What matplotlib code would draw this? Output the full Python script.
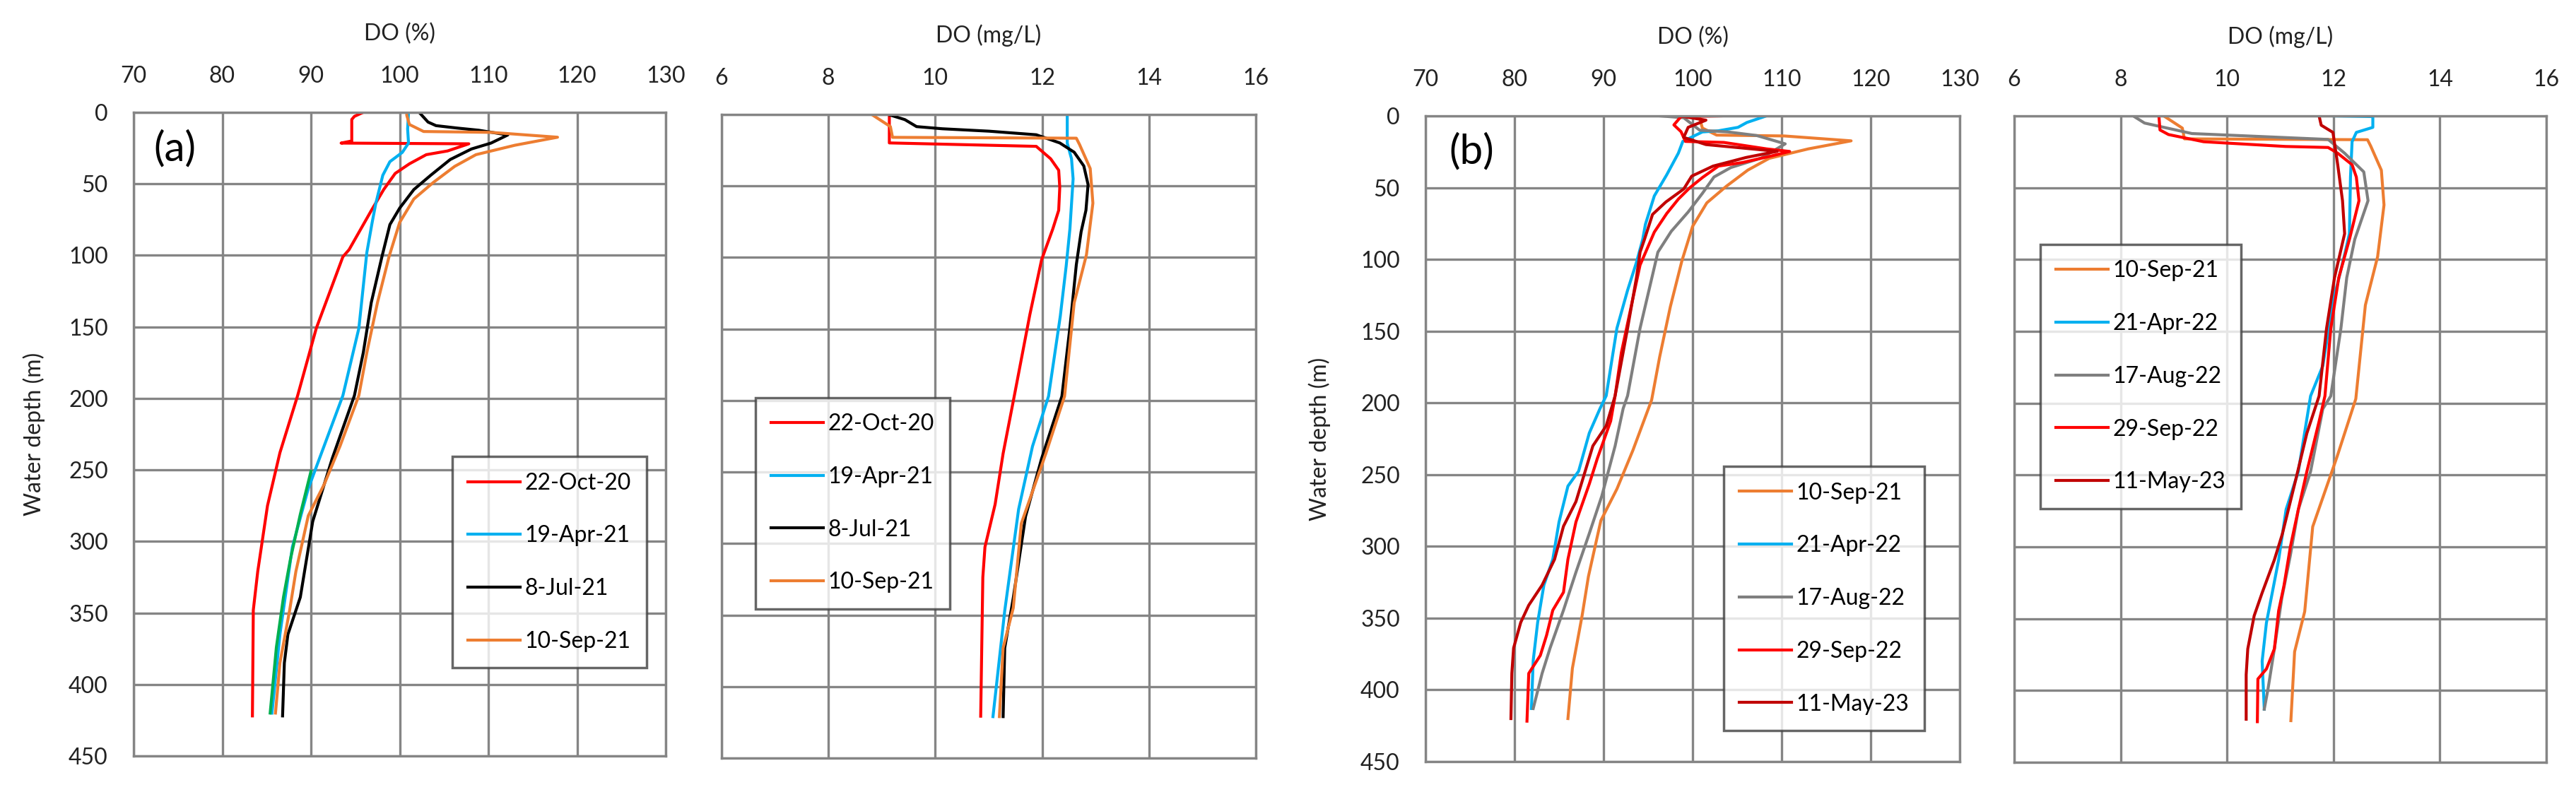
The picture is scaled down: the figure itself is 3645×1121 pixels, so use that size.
"""Dissolved-oxygen depth profiles, (a) 2020-21 and (b) 2021-23 surveys."""

import matplotlib
matplotlib.use("Agg")
import matplotlib.pyplot as plt

plt.rcParams["font.family"] = ["Lato", "DejaVu Sans"]

# ---- (a) DO saturation (%) ----
oct20_d = [0, 2.8, 5, 20, 21.5, 22, 27, 29.6, 36, 42.7, 54, 68.7, 96, 101, 151, 198, 238, 275, 321, 348, 422]
oct20_p = [95.9, 94.9, 94.6, 94.6, 93.4, 107.8, 105.4, 103.0, 101.1, 99.5, 98.2, 96.8, 94.3, 93.6, 90.6,
           88.5, 86.5, 85.1, 84.0, 83.5, 83.4]
apr21_d = [0, 11.7, 21.5, 28, 34.5, 44, 64, 77, 98, 151, 198, 233, 263, 304, 365, 420]
apr21_p = [101.0, 100.9, 101.0, 100.3, 98.9, 98.1, 97.3, 96.9, 96.3, 95.4, 93.6, 91.5, 89.7, 87.9, 86.5, 85.6]
jul21_d = [0, 6.8, 9.3, 11, 12.5, 15.8, 21.5, 25.6, 33, 44, 54, 67, 78.5, 101, 133, 168, 198, 242, 286, 339,
           365, 385, 422]
jul21_p = [102.2, 103.2, 104.1, 106.5, 108.9, 112.2, 110.3, 108.1, 105.7, 103.5, 101.6, 100.0, 98.9, 98.0,
           96.8, 95.9, 94.9, 92.4, 90.2, 88.8, 87.4, 87.0, 86.8]
sep21_d = [0, 2, 8.5, 13.4, 14, 17.4, 23, 29.6, 37.8, 49, 60.6, 77, 101, 133, 168, 198, 233, 260, 282, 321,
           348, 385, 420]
sep21_p = [100.8, 100.8, 101.1, 102.7, 110.3, 117.8, 113.0, 108.6, 106.2, 103.8, 101.6, 100.0, 98.8, 97.5,
           96.3, 95.4, 93.3, 91.5, 89.7, 88.3, 87.6, 86.5, 86.0]
# unlabelled green trace visible in the lower part of panel (a)
extra_d = [251, 281, 312, 339, 374, 420]
extra_p = [90.0, 88.8, 87.7, 86.9, 86.1, 85.4]

# ---- (a) DO concentration (mg/L) ----
oct20_mg_d = [0, 19.9, 22.3, 31, 39, 51, 67, 80, 101.6, 140, 196.6, 237, 272.6, 302.4, 323.6, 420.7]
oct20_mg = [9.14, 9.14, 11.89, 12.16, 12.31, 12.33, 12.31, 12.2, 11.99, 11.77, 11.48, 11.27, 11.12, 10.93,
            10.89, 10.85]
apr21_mg_d = [0, 20, 31, 45, 80, 106, 141, 197, 232, 276, 347, 421]
apr21_mg = [12.47, 12.47, 12.55, 12.58, 12.52, 12.45, 12.34, 12.12, 11.82, 11.56, 11.3, 11.08]
jul21_mg_d = [0, 3.6, 8.5, 10, 11.7, 14.2, 19.9, 26.4, 36, 49, 67, 82, 105, 149, 197, 240.6, 281, 338, 373, 421]
jul21_mg = [9.12, 9.43, 9.65, 10.13, 11.01, 11.89, 12.33, 12.6, 12.78, 12.86, 12.82, 12.73, 12.64, 12.52,
            12.37, 11.99, 11.69, 11.46, 11.3, 11.27]
sep21_mg_d = [0, 8.5, 16.0, 16.6, 21, 37.8, 62, 98, 131.7, 197, 237, 286, 345, 373, 421]
sep21_mg = [8.81, 9.16, 9.2, 12.64, 12.7, 12.9, 12.95, 12.83, 12.6, 12.42, 12.07, 11.61, 11.46, 11.27, 11.2]

# ---- (b) DO saturation (%) ----
apr22_d = [0, 4.6, 8, 10.4, 11.2, 17.8, 26, 41, 55.8, 75.6, 86, 102, 121.5, 148, 195, 204, 221, 247.6, 258,
           283, 309, 327, 353, 379.6, 413]
apr22_p = [108.3, 106.1, 105.1, 102.9, 101.1, 98.9, 98.4, 97.1, 95.7, 94.7, 94.4, 93.7, 92.7, 91.5, 90.3,
           89.6, 88.4, 87.2, 86.0, 85.0, 84.3, 83.3, 82.6, 82.1, 81.9]
aug22_d = [0, 1.3, 10, 11.2, 13.7, 19.5, 29.4, 36, 42.6, 54, 67, 80.5, 95, 121.5, 148, 195, 204, 230, 265,
           291, 318, 344.5, 370.8, 388.5, 413]
aug22_p = [96.3, 99.0, 100.8, 104.0, 107.2, 110.4, 107.7, 104.3, 102.4, 101.1, 99.5, 97.6, 96.1, 95.1, 94.1,
           92.7, 92.2, 91.3, 89.8, 88.4, 86.9, 85.5, 84.0, 83.1, 82.1]
sep22_d = [0, 0.5, 6.3, 11, 17.8, 18.5, 23, 24.8, 28, 32.5, 35, 43, 50, 58, 68, 81, 104, 130, 165, 195,
           212.7, 238.8, 256.5, 283, 309, 332, 344.5, 362, 376, 388.5, 421.8]
sep22_p = [103.2, 98.7, 97.9, 98.7, 99.2, 103.5, 108.3, 110.9, 108.8, 105.6, 102.9, 101.1, 99.7, 98.4, 97.1,
           95.7, 94.1, 93.2, 92.0, 91.3, 90.8, 89.3, 88.4, 86.9, 86.0, 85.5, 84.3, 83.6, 82.9, 81.6, 81.4]
may23_d = [0, 3, 8, 15, 20, 24.7, 29, 35, 42, 51, 60, 68.7, 86, 95, 112.6, 148, 195, 216, 230, 268.8, 286,
           309, 327, 341, 353, 370.8, 388.5, 420]
may23_p = [98.5, 101.5, 99.5, 99.0, 101.5, 109.5, 106.0, 102.3, 99.9, 99.0, 97.0, 95.5, 94.6, 94.1, 93.7,
           92.7, 91.3, 90.3, 88.8, 86.9, 85.5, 84.5, 83.1, 81.6, 80.7, 79.9, 79.7, 79.6]

# ---- (b) DO concentration (mg/L) ----
apr22_mg_d = [0, 0.5, 8, 11.5, 18, 42.6, 82, 95, 130, 174, 195, 247.6, 274, 309, 353, 379.6, 413]
apr22_mg = [11.99, 12.74, 12.74, 12.43, 12.35, 12.32, 12.3, 12.22, 11.99, 11.8, 11.57, 11.34, 11.11, 10.97,
            10.74, 10.66, 10.7]
aug22_mg_d = [0.8, 5, 12.3, 16.4, 26, 39, 59, 86, 112.6, 148, 195, 204, 247.6, 274, 306, 335.6, 371, 399, 413]
aug22_mg = [8.27, 8.45, 9.34, 11.9, 12.21, 12.57, 12.65, 12.4, 12.25, 12.14, 11.95, 11.8, 11.57, 11.34,
            11.19, 11.03, 10.89, 10.77, 10.7]
sep22_mg_d = [0, 9.8, 13, 18, 21.3, 22, 26, 34, 42.6, 59, 86, 112.6, 148, 195, 212.7, 247.6, 274, 300, 327,
              344.5, 371, 385, 392, 421.7]
sep22_mg = [8.72, 8.74, 8.9, 9.56, 11.1, 11.9, 12.08, 12.35, 12.43, 12.48, 12.3, 12.1, 11.95, 11.84, 11.73,
            11.5, 11.34, 11.19, 11.07, 10.97, 10.89, 10.74, 10.58, 10.57]
may23_mg_d = [0, 6.5, 11.5, 34, 59, 82, 112.6, 148, 195, 221, 256.5, 291, 309, 332, 348, 371, 389, 420]
may23_mg = [11.73, 11.77, 11.99, 12.08, 12.17, 12.21, 12.02, 11.87, 11.73, 11.5, 11.27, 11.04, 10.89, 10.66,
            10.51, 10.39, 10.36, 10.36]

pct_ticks = [70, 80, 90, 100, 110, 120, 130]
mg_ticks = [6, 8, 10, 12, 14, 16]
depth_ticks = list(range(0, 451, 50))

C_RED, C_CYAN, C_BLACK, C_ORANGE = "#ff0000", "#00b0f0", "#000000", "#ed7d31"
C_GRAY, C_DARKRED, C_GREEN = "#7f7f7f", "#c00000", "#00b050"
GRID = "#858585"
FS = 23

W, H = 3645, 1121


def make_axes(fig, left, right, top, bottom):
    return fig.add_axes([left / W, 1 - bottom / H, (right - left) / W, (bottom - top) / H])


def style(ax, ticks, xlabel, show_y):
    ax.set_xlim(ticks[0], ticks[-1])
    ax.set_xticks(ticks)
    ax.set_ylim(450, 0)
    ax.set_yticks(depth_ticks)
    ax.xaxis.tick_top()
    ax.xaxis.set_label_position("top")
    ax.set_xlabel(xlabel, fontsize=FS, labelpad=26, color="#222222")
    ax.tick_params(length=0, labelsize=FS, pad=26, colors="#222222")
    ax.tick_params(axis="y", labelleft=show_y)
    ax.grid(True, color=GRID, linewidth=2.4)
    ax.set_axisbelow(True)
    for sp in ax.spines.values():
        sp.set_color(GRID)
        sp.set_linewidth(2.4)


def add_legend(ax, x, y):
    leg = ax.legend(loc="upper left", bbox_to_anchor=(x, y), fontsize=FS, frameon=True, fancybox=False,
                    handlelength=2.3, handletextpad=0.2, labelspacing=1.4, borderpad=0.7,
                    borderaxespad=0)
    leg.get_frame().set_edgecolor("#404040")
    leg.get_frame().set_linewidth(2.5)


fig = plt.figure(figsize=(W / 100, H / 100), dpi=100)
lw = 3

# panel (a) %
ax1 = make_axes(fig, 189, 942, 159, 1070)
ax1.plot(oct20_p, oct20_d, color=C_RED, lw=lw, label="22-Oct-20")
ax1.plot(apr21_p, apr21_d, color=C_CYAN, lw=lw, label="19-Apr-21")
ax1.plot(extra_p, extra_d, color=C_GREEN, lw=lw)
ax1.plot(jul21_p, jul21_d, color=C_BLACK, lw=lw, label="8-Jul-21")
ax1.plot(sep21_p, sep21_d, color=C_ORANGE, lw=lw, label="10-Sep-21")
style(ax1, pct_ticks, "DO (%)", True)
ax1.set_ylabel("Water depth (m)", fontsize=FS, labelpad=24, color="#222222")
add_legend(ax1, 0.599, 0.465)
ax1.text(0.077, 0.943, "(a)", transform=ax1.transAxes, fontsize=42, ha="center", va="center")

# panel (a) mg/L
ax2 = make_axes(fig, 1021, 1777, 162, 1073)
ax2.plot(oct20_mg, oct20_mg_d, color=C_RED, lw=lw, label="22-Oct-20")
ax2.plot(apr21_mg, apr21_mg_d, color=C_CYAN, lw=lw, label="19-Apr-21")
ax2.plot(jul21_mg, jul21_mg_d, color=C_BLACK, lw=lw, label="8-Jul-21")
ax2.plot(sep21_mg, sep21_mg_d, color=C_ORANGE, lw=lw, label="10-Sep-21")
style(ax2, mg_ticks, "DO (mg/L)", False)
add_legend(ax2, 0.0635, 0.56)

# panel (b) %
ax3 = make_axes(fig, 2017, 2773, 164, 1078)
ax3.plot(sep21_p, sep21_d, color=C_ORANGE, lw=lw, label="10-Sep-21")
ax3.plot(apr22_p, apr22_d, color=C_CYAN, lw=lw, label="21-Apr-22")
ax3.plot(aug22_p, aug22_d, color=C_GRAY, lw=lw, label="17-Aug-22")
ax3.plot(sep22_p, sep22_d, color=C_RED, lw=lw, label="29-Sep-22")
ax3.plot(may23_p, may23_d, color=C_DARKRED, lw=lw, label="11-May-23")
style(ax3, pct_ticks, "DO (%)", True)
ax3.set_ylabel("Water depth (m)", fontsize=FS, labelpad=30, color="#222222")
add_legend(ax3, 0.558, 0.457)
ax3.text(0.086, 0.945, "(b)", transform=ax3.transAxes, fontsize=42, ha="center", va="center")

# panel (b) mg/L
ax4 = make_axes(fig, 2850, 3603, 164, 1079)
ax4.plot(sep21_mg, sep21_mg_d, color=C_ORANGE, lw=lw, label="10-Sep-21")
ax4.plot(apr22_mg, apr22_mg_d, color=C_CYAN, lw=lw, label="21-Apr-22")
ax4.plot(aug22_mg, aug22_mg_d, color=C_GRAY, lw=lw, label="17-Aug-22")
ax4.plot(sep22_mg, sep22_mg_d, color=C_RED, lw=lw, label="29-Sep-22")
ax4.plot(may23_mg, may23_mg_d, color=C_DARKRED, lw=lw, label="11-May-23")
style(ax4, mg_ticks, "DO (mg/L)", False)
add_legend(ax4, 0.049, 0.801)

fig.savefig("out.png", dpi=100, facecolor="white")
